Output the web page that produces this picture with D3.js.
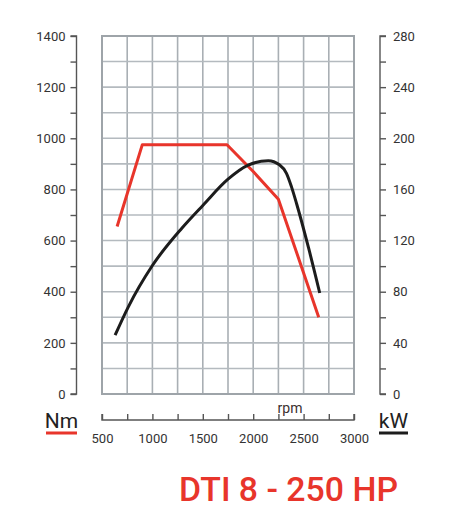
<!DOCTYPE html>
<html><head><meta charset="utf-8">
<script src="https://cdn.jsdelivr.net/npm/d3@7"></script>
<style>html,body{margin:0;padding:0;background:#fff;}svg{display:block;}</style>
</head><body>
<svg id="c" width="471" height="525"></svg>
<script>
// Data
const torqueRpm = [650, 900, 1740, 2000, 2250, 2650];
const torqueNm  = [655, 975, 975, 870, 762, 300];
const powerRpm  = [630, 760, 1000, 1290, 1500, 1750, 1950, 2150, 2260, 2330, 2380, 2430, 2550, 2660];
const powerKw   = [46, 68, 100.5, 129.5, 147.5, 168, 179, 182.5, 179.3, 172.6, 162, 149, 114, 79];
const rpmTicks  = [500, 1000, 1500, 2000, 2500, 3000];
const nmTicks   = [0, 200, 400, 600, 800, 1000, 1200, 1400];
const kwTicks   = [0, 40, 80, 120, 160, 200, 240, 280];
const title = "DTI 8 - 250 HP";

const svg = d3.select("#c");
const red = "#e8352b", black = "#1c1c1c", axisCol = "#555", textCol = "#333";
const font = "Roboto, 'DejaVu Sans', sans-serif";

const x = d3.scaleLinear().domain([500, 3000]).range([102, 354]);
const yN = d3.scaleLinear().domain([0, 1400]).range([394, 36]);
const yK = d3.scaleLinear().domain([0, 280]).range([394, 36]);

// grid
const g = svg.append("g");
g.selectAll(".v").data(d3.range(500, 3001, 250)).join("line")
  .attr("x1", d => x(d)).attr("x2", d => x(d)).attr("y1", yN(0)).attr("y2", yN(1400))
  .attr("stroke", "#a9afb4").attr("stroke-width", 1.6);
g.selectAll(".h").data(d3.range(0, 1401, 100)).join("line")
  .attr("y1", d => yN(d)).attr("y2", d => yN(d)).attr("x1", x(500)).attr("x2", x(3000))
  .attr("stroke", "#b4babf").attr("stroke-width", 1.6);
g.append("rect").attr("x", x(500)).attr("y", yN(1400)).attr("width", x(3000) - x(500)).attr("height", yN(0) - yN(1400))
  .attr("fill", "none").attr("stroke", "#9ea4a9").attr("stroke-width", 2);

// left axis
const la = svg.append("g").attr("transform", "translate(76.5,0)")
  .call(d3.axisLeft(yN).tickValues(d3.range(0, 1401, 100)).tickSize(6).tickPadding(5)
    .tickFormat(d => nmTicks.includes(d) ? d : ""));
// right axis
const ra = svg.append("g").attr("transform", "translate(380,0)")
  .call(d3.axisRight(yK).tickValues(d3.range(0, 281, 20)).tickSize(6).tickPadding(7)
    .tickFormat(d => kwTicks.includes(d) ? d : ""));
// bottom axis
const ba = svg.append("g").attr("transform", "translate(0,420)")
  .call(d3.axisTop(x).tickValues(d3.range(500, 3001, 250)).tickSize(6).tickFormat(""));
ba.selectAll(".tick").each(function(d){
  if (rpmTicks.includes(d)) d3.select(this).append("text").attr("y", 23).attr("fill", textCol)
    .attr("text-anchor", "middle").text(d);
});
[la, ra, ba].forEach(a => {
  a.select(".domain").attr("stroke", axisCol).attr("stroke-width", 1.4);
  a.selectAll(".tick line").attr("stroke", axisCol).attr("stroke-width", 1.4);
  a.selectAll("text").attr("fill", textCol).attr("font-family", font).attr("font-size", 13);
});
la.select(".domain").attr("d", `M-6,${yN(1400)}H0V${yN(0)}H-6`);
ra.select(".domain").attr("d", `M6,${yK(280)}H0V${yK(0)}H6`);
ba.select(".domain").attr("d", `M${x(500)},-6V0H${x(3000)}V-6`);

// lines
svg.append("path").datum(torqueRpm.map((r, i) => [r, torqueNm[i]]))
  .attr("d", d3.line().x(d => x(d[0])).y(d => yN(d[1])))
  .attr("fill", "none").attr("stroke", red).attr("stroke-width", 3).attr("stroke-linejoin", "round");
svg.append("path").datum(powerRpm.map((r, i) => [r, powerKw[i]]))
  .attr("d", d3.line().curve(d3.curveMonotoneX).x(d => x(d[0])).y(d => yK(d[1])))
  .attr("fill", "none").attr("stroke", black).attr("stroke-width", 3);

// labels
svg.append("text").attr("x", 290).attr("y", 413).attr("text-anchor", "middle")
  .attr("font-family", font).attr("font-size", 14).attr("fill", "#3a3030").text("rpm");
svg.append("text").attr("x", 61.5).attr("y", 428).attr("text-anchor", "middle")
  .attr("font-family", font).attr("font-size", 21).attr("fill", "#222").text("Nm");
svg.append("rect").attr("x", 46).attr("y", 431.5).attr("width", 31).attr("height", 3).attr("fill", red);
svg.append("text").attr("x", 393.5).attr("y", 428).attr("text-anchor", "middle")
  .attr("font-family", font).attr("font-size", 21).attr("fill", "#222").text("kW");
svg.append("rect").attr("x", 379).attr("y", 431.5).attr("width", 29).attr("height", 3).attr("fill", black);

svg.append("text").attr("x", 288.5).attr("y", 501).attr("text-anchor", "middle")
  .attr("font-family", font).attr("font-weight", 500).attr("font-size", 33).attr("fill", red)
  .attr("textLength", 219).attr("lengthAdjust", "spacingAndGlyphs").text(title);
</script>
</body></html>
